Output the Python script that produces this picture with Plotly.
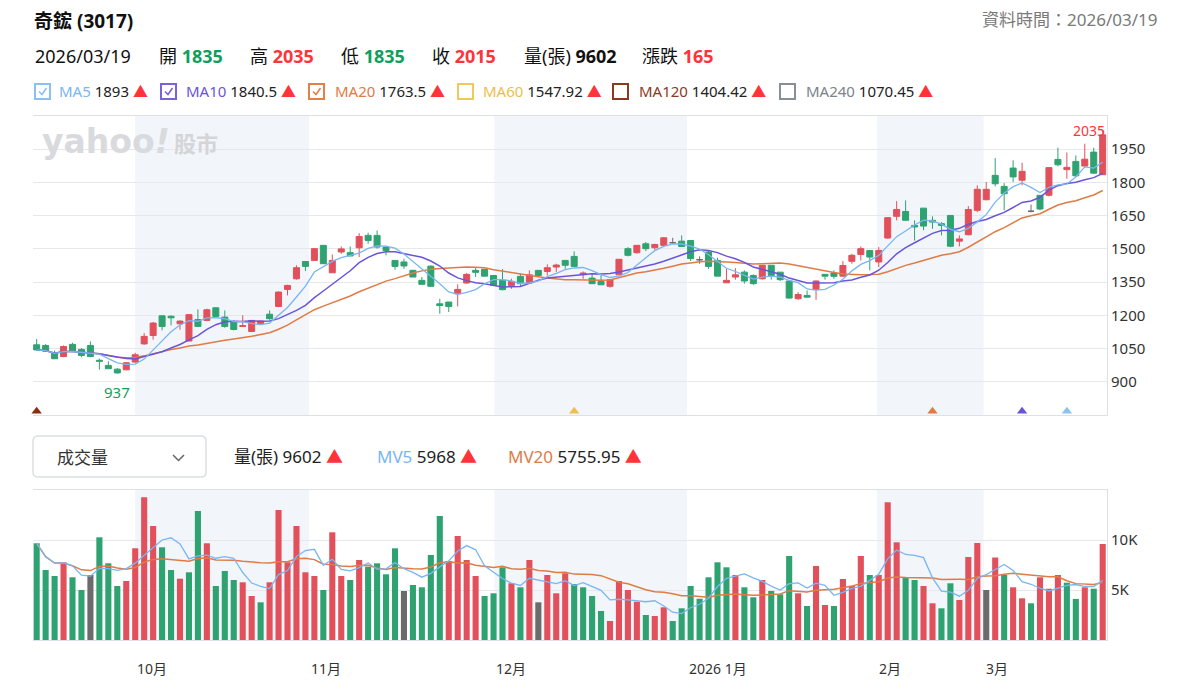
import plotly.graph_objects as go
import pandas as pd

# ------------------------------------------------------------------ data
opens = [1067, 1064, 1031, 1014, 1069, 1046, 1064, 997, 974, 957,
         954, 989, 1071, 1109, 1198, 1196, 1162, 1084, 1181, 1177,
         1234, 1192, 1172, 1150, 1127, 1162, 1205, 1240, 1317, 1365,
         1443, 1448, 1516, 1392, 1486, 1483, 1505, 1561, 1561, 1508,
         1448, 1441, 1403, 1358, 1422, 1252, 1260, 1297, 1346, 1403,
         1408, 1380, 1358, 1335, 1376, 1346, 1403, 1398, 1418, 1448,
         1466, 1384, 1368, 1353, 1331, 1383, 1501, 1483, 1523, 1505,
         1516, 1528, 1535, 1538, 1451, 1486, 1448, 1347, 1373, 1395,
         1380, 1365, 1426, 1395, 1355, 1275, 1290, 1317, 1385, 1391,
         1377, 1444, 1475, 1493, 1441, 1549, 1647, 1669, 1606, 1684,
         1629, 1614, 1651, 1535, 1564, 1674, 1722, 1832, 1782, 1865,
         1810, 1670, 1742, 1742, 1904, 1858, 1895, 1874, 1937, 1835]
highs = [1093, 1070, 1041, 1064, 1076, 1052, 1082, 1005, 993, 962,
         989, 1031, 1120, 1170, 1198, 1200, 1177, 1205, 1227, 1230,
         1236, 1222, 1177, 1200, 1177, 1177, 1222, 1308, 1338, 1426,
         1443, 1501, 1516, 1475, 1511, 1511, 1571, 1573, 1583, 1511,
         1448, 1456, 1406, 1373, 1426, 1275, 1260, 1340, 1391, 1418,
         1408, 1380, 1409, 1365, 1388, 1403, 1403, 1430, 1433, 1448,
         1489, 1398, 1391, 1383, 1361, 1453, 1508, 1516, 1531, 1523,
         1553, 1550, 1561, 1538, 1466, 1493, 1460, 1410, 1413, 1403,
         1385, 1426, 1426, 1395, 1358, 1305, 1312, 1358, 1385, 1403,
         1445, 1478, 1511, 1493, 1508, 1644, 1716, 1719, 1629, 1684,
         1647, 1621, 1651, 1561, 1693, 1787, 1802, 1910, 1797, 1900,
         1889, 1700, 1742, 1867, 1957, 1935, 1922, 1975, 1957, 2035]
lows = [1042, 1034, 1004, 1011, 1034, 1011, 1011, 955, 959, 937,
        952, 986, 1067, 1090, 1132, 1155, 1135, 1083, 1150, 1174,
        1189, 1144, 1132, 1148, 1124, 1160, 1180, 1237, 1290, 1361,
        1400, 1448, 1433, 1392, 1478, 1467, 1463, 1523, 1501, 1471,
        1406, 1410, 1373, 1340, 1331, 1207, 1215, 1240, 1343, 1373,
        1377, 1332, 1313, 1320, 1328, 1343, 1373, 1380, 1395, 1410,
        1418, 1365, 1343, 1338, 1325, 1383, 1466, 1478, 1490, 1496,
        1511, 1523, 1508, 1445, 1433, 1410, 1377, 1347, 1361, 1343,
        1338, 1361, 1361, 1355, 1275, 1270, 1282, 1270, 1361, 1365,
        1373, 1433, 1448, 1403, 1418, 1546, 1629, 1629, 1538, 1584,
        1591, 1561, 1508, 1511, 1561, 1666, 1719, 1782, 1674, 1802,
        1787, 1665, 1674, 1737, 1873, 1817, 1825, 1867, 1840, 1835]
closes = [1044, 1038, 1004, 1059, 1038, 1019, 1014, 993, 959, 940,
          986, 1022, 1105, 1165, 1150, 1189, 1174, 1203, 1150, 1225,
          1195, 1150, 1136, 1153, 1177, 1174, 1185, 1305, 1335, 1415,
          1421, 1501, 1433, 1448, 1500, 1468, 1556, 1538, 1508, 1493,
          1421, 1423, 1373, 1340, 1331, 1244, 1240, 1317, 1385, 1394,
          1377, 1335, 1316, 1353, 1343, 1383, 1380, 1415, 1427, 1426,
          1421, 1391, 1343, 1338, 1361, 1453, 1471, 1516, 1501, 1520,
          1550, 1528, 1511, 1456, 1451, 1421, 1377, 1358, 1383, 1355,
          1343, 1426, 1380, 1361, 1278, 1294, 1282, 1355, 1377, 1376,
          1425, 1471, 1501, 1463, 1493, 1641, 1678, 1629, 1599, 1603,
          1621, 1606, 1512, 1545, 1678, 1769, 1769, 1794, 1749, 1825,
          1850, 1670, 1680, 1867, 1880, 1868, 1830, 1905, 1842, 2015]
volumes = [9670, 7000, 6400, 7770, 6270, 5000, 6500, 10270, 7670, 5400,
           5900, 9170, 14270, 11400, 9270, 7000, 6130, 6770, 12900, 9670,
           5400, 6900, 6000, 5770, 4400, 3770, 5770, 13000, 7770, 11400,
           6770, 6400, 5000, 10770, 6400, 6000, 8000, 7330, 7670, 6570,
           9170, 4900, 5500, 5270, 8500, 12400, 7900, 10400, 8000, 6400,
           4400, 4670, 7270, 5670, 5270, 8000, 3770, 6500, 4670, 6670,
           5600, 5270, 4400, 2900, 1900, 5900, 5000, 3830, 2500, 2400,
           3270, 1900, 3170, 5400, 4130, 6270, 7770, 7270, 6500, 5270,
           4270, 6000, 4900, 4570, 8400, 4670, 3400, 7400, 3500, 3400,
           6100, 5400, 8400, 6500, 6500, 13770, 9770, 6230, 6000, 5400,
           3670, 3170, 5670, 4000, 8300, 9700, 5000, 8250, 6500, 5270,
           4170, 3670, 6270, 5130, 6500, 5730, 4110, 5270, 5130, 9602]
# change vs previous close: r = up, g = down, n = unchanged
vol_dir = ("gggrggnggg" "rrrrggrggr" "gggrrgrrrr" "rrgrrgrggg" "gnggggrrrr"
           "gggrgrnrrr" "ggggrrrrgr" "rgggggggrg" "grgggrgrrg" "rrrgrrrggr"
           "rggrrrnrgr" "rgrrrggrgr")

month_labels = ["10月", "11月", "12月", "2026 1月", "2月", "3月"]
month_start = [11.0, 30.4, 51.1, 72.6, 93.8, 105.7]
shaded_months = [0, 2, 4]

signal_idx = [0, 60, 100, 110, 115]
signal_color = ["#8c2d12", "#eec052", "#e07b45", "#6a55d8", "#8cc2f0"]

stock_title = "奇鋐 (3017)"
data_time = "資料時間：2026/03/19"
last_date = "2026/03/19"
last_open, last_high, last_low, last_close = 1835, 2035, 1835, 2015
last_vol, last_change = 9602, 165
ma_names = ["MA5", "MA10", "MA20", "MA60", "MA120", "MA240"]
ma_values = ["1893", "1840.5", "1763.5", "1547.92", "1404.42", "1070.45"]
ma_checked = [True, True, True, False, False, False]
mv_values = ["5968", "5755.95"]

# ------------------------------------------------------------------ style
FONT = "Noto Sans, Noto Sans CJK TC, sans-serif"
RED = "#e1505b"
GREEN = "#2ea371"
GRAY = "#6b6b6b"
TRED = "#ff333a"
TGREEN = "#0f9f5c"
GRID = "#e6e8ec"
BORDER = "#dde1e7"
BAND = "#f2f5f9"
MA_COL = ["#7ab6f2", "#6a55d8", "#e07b45", "#edbd4c", "#8b3a1f", "#7d838a"]
MA_BOX = ["#8cc0f0", "#7b61e0", "#e0804a", "#f0c860", "#8b3a22", "#8a8f96"]

W, H = 1191, 691
PL, PR, PT, PB = 33, 1107, 116, 640


def xp(x):
    return (x - PL) / (PR - PL)


def yp(y):
    return (PB - y) / (PB - PT)


N = len(closes)
X = list(range(N))
cs = pd.Series(closes, dtype=float)
vs = pd.Series(volumes, dtype=float)

fig = go.Figure()

# bands
shapes = []
for k in shaded_months:
    for xr_, yr_ in (("x", "y domain"), ("x2", "y2 domain")):
        shapes.append(dict(type="rect", xref=xr_, yref=yr_, x0=month_start[k], x1=month_start[k + 1],
                           y0=0, y1=1, fillcolor=BAND, line=dict(width=0), layer="below"))

# candles
groups = [(lambda o, c: c > o, RED), (lambda o, c: c < o, GREEN), (lambda o, c: c == o, GRAY)]
for cond, col in groups:
    ids = [i for i in X if cond(opens[i], closes[i])]
    fig.add_trace(go.Candlestick(
        x=ids, open=[opens[i] for i in ids], high=[highs[i] for i in ids],
        low=[lows[i] for i in ids], close=[closes[i] for i in ids],
        increasing=dict(line=dict(color=col, width=1), fillcolor=col),
        decreasing=dict(line=dict(color=col, width=1), fillcolor=col),
        whiskerwidth=0, hoverinfo="skip", showlegend=False, xaxis="x", yaxis="y"))

# moving averages
for n, col, w in ((20, MA_COL[2], 1.5), (10, MA_COL[1], 1.5), (5, MA_COL[0], 1.3)):
    fig.add_trace(go.Scatter(x=X, y=cs.rolling(n, min_periods=1).mean(), mode="lines",
                             line=dict(color=col, width=w), hoverinfo="skip",
                             showlegend=False, xaxis="x", yaxis="y"))

# signal triangles
fig.add_trace(go.Scatter(x=signal_idx, y=[767] * len(signal_idx), mode="markers",
                         marker=dict(symbol="triangle-up", size=9, color=signal_color),
                         cliponaxis=False, hoverinfo="skip", showlegend=False,
                         xaxis="x", yaxis="y"))

# volume
cmap = {"r": RED, "g": GREEN, "n": GRAY}
fig.add_trace(go.Bar(x=X, y=volumes, marker=dict(color=[cmap[d] for d in vol_dir], line=dict(width=0)),
                     width=0.68, hoverinfo="skip", showlegend=False, xaxis="x2", yaxis="y2"))
for n, col, w in ((20, MA_COL[2], 1.5), (5, MA_COL[0], 1.3)):
    fig.add_trace(go.Scatter(x=X, y=vs.rolling(n, min_periods=1).mean(), mode="lines",
                             line=dict(color=col, width=w), hoverinfo="skip",
                             showlegend=False, xaxis="x2", yaxis="y2"))

xr = [-0.41, N - 1 + 0.48]
ann = []


def A(text, x, y, size, color="#222", xanchor="left", family=FONT, **kw):
    ann.append(dict(text=text, x=xp(x), y=yp(y), xref="paper", yref="paper",
                    xanchor=xanchor, yanchor="middle", showarrow=False,
                    font=dict(size=size, color=color, family=family), **kw))


# header
A(f"<b>{stock_title}</b>", 32, 21, 19, "#111")
A(data_time, 1159, 20, 17, "#7a7a7a", xanchor="right")
A(last_date, 33, 56, 18, "#111")
A(f"開 <b><span style='color:{TGREEN}'>{last_open}</span></b>", 157, 56, 18, "#111")
A(f"高 <b><span style='color:{TRED}'>{last_high}</span></b>", 248, 56, 18, "#111")
A(f"低 <b><span style='color:{TGREEN}'>{last_low}</span></b>", 339, 56, 18, "#111")
A(f"收 <b><span style='color:{TRED}'>{last_close}</span></b>", 430, 56, 18, "#111")
A(f"量(張) <b>{last_vol}</b>", 522, 56, 18, "#111")
A(f"漲跌 <b><span style='color:{TRED}'>{last_change}</span></b>", 640, 56, 18, "#111")

box_x = [35, 161, 309, 458, 613, 780]
name_x = [57, 184, 333, 481, 637, 804]
for k in range(6):
    bx = box_x[k]
    shapes.append(dict(type="rect", xref="paper", yref="paper", x0=xp(bx), x1=xp(bx + 15),
                       y0=yp(99), y1=yp(84), line=dict(color=MA_BOX[k], width=2),
                       fillcolor="white", layer="above"))
    if ma_checked[k]:
        shapes.append(dict(type="path", xref="paper", yref="paper",
                           path=f"M {xp(bx+4)} {yp(91.5)} L {xp(bx+7)} {yp(94.5)} L {xp(bx+11.5)} {yp(88)}",
                           line=dict(color=MA_BOX[k], width=1.6)))
    A(f"<span style='color:{MA_COL[k]}'>{ma_names[k]}</span> {ma_values[k]} "
      f"<span style='color:{TRED}'>▲</span>", name_x[k], 91, 15, "#222")

# volume header
shapes.append(dict(type="path", xref="paper", yref="paper",
                   path=(f"M {xp(38)} {yp(436)} L {xp(201)} {yp(436)} Q {xp(206)} {yp(436)} {xp(206)} {yp(441)} "
                         f"L {xp(206)} {yp(472)} Q {xp(206)} {yp(477)} {xp(201)} {yp(477)} "
                         f"L {xp(38)} {yp(477)} Q {xp(33)} {yp(477)} {xp(33)} {yp(472)} "
                         f"L {xp(33)} {yp(441)} Q {xp(33)} {yp(436)} {xp(38)} {yp(436)} Z"),
                   line=dict(color="#dcdfe3", width=1.5), fillcolor="white"))
shapes.append(dict(type="path", xref="paper", yref="paper",
                   path=f"M {xp(173)} {yp(455)} L {xp(178.5)} {yp(460.5)} L {xp(184)} {yp(455)}",
                   line=dict(color="#666", width=1.5)))
A("成交量", 55, 457, 17, "#333")
A(f"量(張) {last_vol} <span style='color:{TRED}'>▲</span>", 232, 456, 17, "#222")
A(f"<span style='color:{MA_COL[0]}'>MV5</span> {mv_values[0]} <span style='color:{TRED}'>▲</span>",
  375, 456, 17, "#222")
A(f"<span style='color:{MA_COL[2]}'>MV20</span> {mv_values[1]} <span style='color:{TRED}'>▲</span>",
  506, 456, 17, "#222")

# watermark
A("<b>yahoo<i>!</i></b>", 40, 141, 33, "#d9dadd", family="DejaVu Sans")
A("<b>股市</b>", 172, 142, 22, "#d4d5d8", family="Noto Sans CJK TC")

# high / low labels
imax = max(X, key=lambda i: highs[i])
imin = min(X, key=lambda i: lows[i])
ann.append(dict(text=str(highs[imax]), x=imax, y=highs[imax], xref="x", yref="y",
                xanchor="right", yanchor="middle", xshift=4, showarrow=False,
                font=dict(size=14, color=TRED, family=FONT)))
ann.append(dict(text=str(lows[imin]), x=imin, y=lows[imin], xref="x", yref="y",
                xanchor="center", yanchor="top", yshift=-6, showarrow=False,
                font=dict(size=15, color=TGREEN, family=FONT)))

# month labels
for k, lab in enumerate(month_labels):
    ann.append(dict(text=lab, x=month_start[k], y=yp(668), xref="x2", yref="paper",
                    xanchor="left", yanchor="middle", showarrow=False,
                    font=dict(size=14, color="#333", family=FONT)))

axis_common = dict(zeroline=False, fixedrange=True)
fig.update_layout(
    width=W, height=H, margin=dict(l=PL, r=W - PR, t=PT, b=H - PB, pad=0),
    paper_bgcolor="white", plot_bgcolor="white", showlegend=False,
    font=dict(family=FONT, color="#222"),
    boxgap=0.33, boxgroupgap=0, boxmode="overlay",
    xaxis=dict(domain=[0, 1], range=xr, anchor="y", showgrid=False, showticklabels=False,
               showline=True, mirror=True, linecolor=BORDER, linewidth=1,
               rangeslider=dict(visible=False), **axis_common),
    yaxis=dict(domain=[yp(415), 1], range=[750, 2100], side="right",
               tickvals=list(range(900, 2000, 150)), showgrid=True, gridcolor=GRID, gridwidth=1,
               showline=True, linecolor=BORDER, linewidth=1, ticks="",
               tickfont=dict(size=15, color="#333"), **axis_common),
    xaxis2=dict(domain=[0, 1], range=xr, anchor="y2", showgrid=False, showticklabels=False,
                showline=True, mirror=True, linecolor=BORDER, linewidth=1, **axis_common),
    yaxis2=dict(domain=[0, yp(490)], range=[0, 15000], side="right",
                tickvals=[5000, 10000], ticktext=["5K", "10K"], showgrid=True, gridcolor=GRID,
                showline=True, linecolor=BORDER, linewidth=1, ticks="",
                tickfont=dict(size=15, color="#333"), **axis_common),
    shapes=shapes, annotations=ann,
)

fig.write_html("out.html")
